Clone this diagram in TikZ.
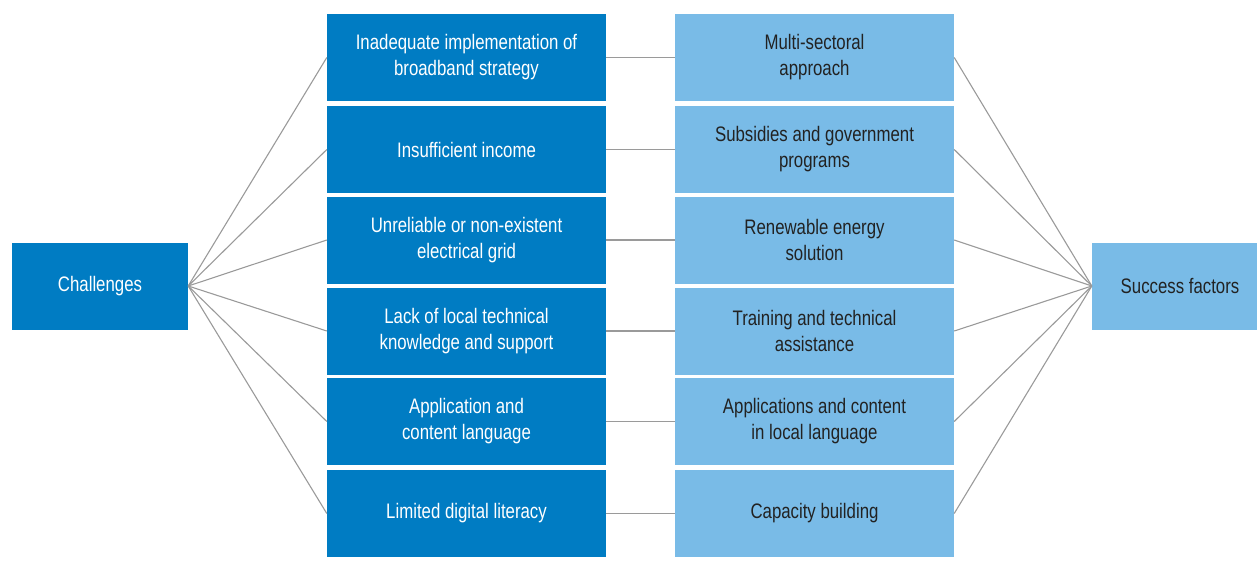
\documentclass[tikz,border=0pt]{standalone}
\usepackage{fontspec}
\setmainfont{Liberation Sans}[FakeStretch=0.8]
\definecolor{darkblue}{HTML}{007CC3}
\definecolor{lightblue}{HTML}{79BBE7}
\definecolor{linegray}{HTML}{9A9A9A}
\definecolor{txtdark}{HTML}{222222}
\tikzset{
  box/.style={rectangle, inner sep=0pt, minimum height=87pt, align=center,
    font=\fontsize{21}{26}\selectfont},
  chal/.style={box, fill=darkblue, text=white, minimum width=279pt},
  succ/.style={box, fill=lightblue, text=txtdark, minimum width=279pt},
  conn/.style={draw=linegray, line width=1.1pt}
}
\begin{document}
\begin{tikzpicture}[x=1pt,y=-1pt]
\useasboundingbox (0,0) rectangle (1257,567);
\node[box, fill=darkblue, text=white, minimum width=176pt] (ch) at (100,286) {Challenges};
\node[box, fill=lightblue, text=txtdark, minimum width=176pt] (sf) at (1180,286) {Success factors};
\node[chal] (l1) at (466.5,57.5) {Inadequate implementation of\\broadband strategy};
\node[chal] (l2) at (466.5,149.5) {Insufficient income};
\node[chal] (l3) at (466.5,240) {Unreliable or non-existent\\electrical grid};
\node[chal] (l4) at (466.5,331) {Lack of local technical\\knowledge and support};
\node[chal] (l5) at (466.5,421.5) {Application and\\content language};
\node[chal] (l6) at (466.5,513.5) {Limited digital literacy};
\node[succ] (r1) at (814.5,57.5) {Multi-sectoral\\approach};
\node[succ] (r2) at (814.5,149.5) {Subsidies and government\\programs};
\node[succ] (r3) at (814.5,240) {Renewable energy\\solution};
\node[succ] (r4) at (814.5,331) {Training and technical\\assistance};
\node[succ] (r5) at (814.5,421.5) {Applications and content\\in local language};
\node[succ] (r6) at (814.5,513.5) {Capacity building};
\foreach \i in {1,...,6}{
  \draw[conn] (ch.east) -- (l\i.west);
  \draw[conn] (l\i.east) -- (r\i.west);
  \draw[conn] (r\i.east) -- (sf.west);
}
\end{tikzpicture}
\end{document}
